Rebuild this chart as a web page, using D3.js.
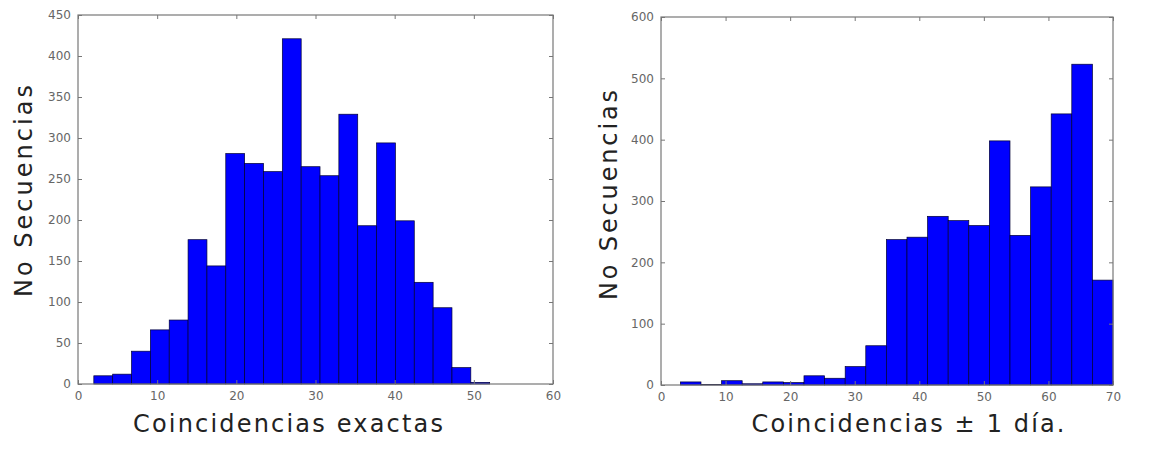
<!DOCTYPE html>
<html>
<head>
<meta charset="utf-8">
<script src="https://cdn.jsdelivr.net/npm/d3@7"></script>
<style>
  body { margin: 0; background: #fff; }
  svg { display: block; }
</style>
</head>
<body>
<svg id="chart" width="1149" height="452"></svg>
<script>
// ---- Data ----
const leftCounts = [10, 12, 40, 66, 78, 176, 144, 281, 269, 259, 421, 265, 254, 329, 193, 294, 199, 124, 93, 20, 2];
const leftBinStart = 2;
const leftBinEnd = 52;
const leftXTicks = [0, 10, 20, 30, 40, 50, 60];
const leftYTicks = [0, 50, 100, 150, 200, 250, 300, 350, 400, 450];

const rightCounts = [5, 1, 7, 2, 5, 4, 15, 11, 30, 64, 237, 241, 275, 268, 260, 398, 244, 323, 442, 523, 171];
const rightBinStart = 3;
const rightBinEnd = 70;
const rightXTicks = [0, 10, 20, 30, 40, 50, 60, 70];
const rightYTicks = [0, 100, 200, 300, 400, 500, 600];

const yLabel = "No Secuencias";
const leftXLabel = "Coincidencias exactas";
const rightXLabel = "Coincidencias ± 1 día.";

const svg = d3.select("#chart");
const FONT = "'DejaVu Sans', Verdana, sans-serif";

function panel(cfg) {
  const g = svg.append("g");
  const x = d3.scaleLinear().domain(cfg.xDomain).range([cfg.x0, cfg.x1]);
  const y = d3.scaleLinear().domain(cfg.yDomain).range([cfg.y1, cfg.y0]);
  const n = cfg.counts.length;
  const w = (cfg.binEnd - cfg.binStart) / n;
  const bins = cfg.counts.map((c, i) => ({ a: cfg.binStart + i * w, b: cfg.binStart + (i + 1) * w, c }));

  g.selectAll("rect.bar").data(bins).join("rect")
    .attr("class", "bar")
    .attr("x", d => x(d.a))
    .attr("width", d => x(d.b) - x(d.a))
    .attr("y", d => y(d.c))
    .attr("height", d => y(0) - y(d.c))
    .attr("fill", "#0000ff")
    .attr("stroke", "#000033")
    .attr("stroke-width", 0.7);

  // axes with inward ticks on all sides
  const tickLen = 4;
  const axB = d3.axisBottom(x).tickValues(cfg.xTicks).tickSizeInner(-tickLen).tickSizeOuter(0).tickPadding(7);
  const axT = d3.axisTop(x).tickValues(cfg.xTicks).tickSizeInner(-tickLen).tickSizeOuter(0).tickFormat("");
  const axL = d3.axisLeft(y).tickValues(cfg.yTicks).tickSizeInner(-tickLen).tickSizeOuter(0).tickPadding(7);
  const axR = d3.axisRight(y).tickValues(cfg.yTicks).tickSizeInner(-tickLen).tickSizeOuter(0).tickFormat("");

  const gb = g.append("g").attr("transform", `translate(0,${cfg.y1})`).call(axB);
  const gt = g.append("g").attr("transform", `translate(0,${cfg.y0})`).call(axT);
  const gl = g.append("g").attr("transform", `translate(${cfg.x0},0)`).call(axL);
  const gr = g.append("g").attr("transform", `translate(${cfg.x1},0)`).call(axR);
  [gb, gt, gl, gr].forEach(a => {
    a.select(".domain").remove();
    a.selectAll(".tick line").attr("stroke", "#777").attr("stroke-width", 1);
    a.selectAll(".tick text").attr("fill", "#666").style("font-family", FONT).style("font-size", "12px");
  });

  // frame
  g.append("rect")
    .attr("x", cfg.x0).attr("y", cfg.y0)
    .attr("width", cfg.x1 - cfg.x0).attr("height", cfg.y1 - cfg.y0)
    .attr("fill", "none").attr("stroke", "#777").attr("stroke-width", 1.2);

  // labels
  g.append("text")
    .attr("x", cfg.xlabX).attr("y", cfg.xlabY)
    .attr("text-anchor", "middle")
    .attr("textLength", cfg.xlabLen).attr("lengthAdjust", "spacing")
    .style("font-family", FONT).style("font-size", "24px").attr("fill", "#222")
    .text(cfg.xLabel);

  g.append("text")
    .attr("transform", `translate(${cfg.ylabX},${cfg.ylabY}) rotate(-90)`)
    .attr("text-anchor", "middle")
    .attr("textLength", cfg.ylabLen).attr("lengthAdjust", "spacing")
    .style("font-family", FONT).style("font-size", "24px").attr("fill", "#222")
    .text(yLabel);
}

panel({
  counts: leftCounts, binStart: leftBinStart, binEnd: leftBinEnd,
  xDomain: [0, 60], yDomain: [0, 450], xTicks: leftXTicks, yTicks: leftYTicks,
  x0: 78, x1: 553, y0: 15, y1: 384,
  xLabel: leftXLabel, xlabX: 288, xlabY: 432, xlabLen: 310,
  ylabX: 32, ylabY: 191, ylabLen: 212
});

panel({
  counts: rightCounts, binStart: rightBinStart, binEnd: rightBinEnd,
  xDomain: [0, 70], yDomain: [0, 600], xTicks: rightXTicks, yTicks: rightYTicks,
  x0: 661, x1: 1113, y0: 17, y1: 385,
  xLabel: rightXLabel, xlabX: 908, xlabY: 432, xlabLen: 313,
  ylabX: 617, ylabY: 195, ylabLen: 210
});
</script>
</body>
</html>
